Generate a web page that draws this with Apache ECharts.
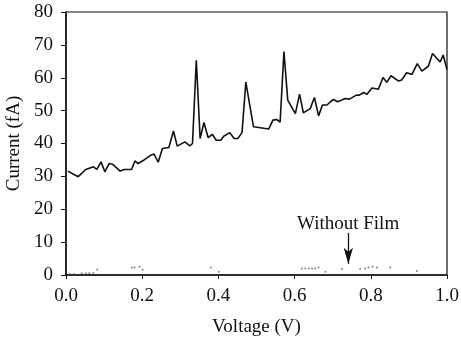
<!DOCTYPE html>
<html>
<head>
<meta charset="utf-8">
<style>
  html, body { margin: 0; padding: 0; background: #fff; }
  #chart { width: 461px; height: 344px; }
</style>
<script src="https://cdn.jsdelivr.net/npm/echarts@6/dist/echarts.min.js"></script>
</head>
<body>
<div id="chart"></div>
<script>
// 有膜曲线（电压 V / 电流 fA）
const filmVolts = [0.005, 0.032, 0.052, 0.072, 0.081, 0.092, 0.102, 0.113, 0.122, 0.142,
  0.153, 0.172, 0.181, 0.189, 0.205, 0.222, 0.231, 0.242, 0.253, 0.270,
  0.282, 0.292, 0.312, 0.325, 0.332, 0.342, 0.352, 0.362, 0.373, 0.384,
  0.394, 0.406, 0.414, 0.430, 0.441, 0.451, 0.462, 0.472, 0.492, 0.510,
  0.532, 0.543, 0.553, 0.562, 0.572, 0.582, 0.602, 0.613, 0.623, 0.641,
  0.652, 0.663, 0.673, 0.685, 0.694, 0.702, 0.713, 0.733, 0.744, 0.762,
  0.770, 0.781, 0.790, 0.803, 0.820, 0.832, 0.842, 0.853, 0.873, 0.881,
  0.894, 0.908, 0.922, 0.934, 0.951, 0.962, 0.982, 0.990, 1.000];
const filmCurrent = [31.6, 29.9, 32.1, 32.9, 32.1, 34.4, 31.4, 33.9, 33.7, 31.6,
  32.1, 32.1, 34.7, 33.9, 35.0, 36.4, 36.8, 34.3, 38.5, 38.8,
  43.8, 39.2, 40.5, 39.3, 40.0, 65.3, 41.5, 46.4, 41.8, 42.8,
  41.0, 41.0, 42.2, 43.3, 41.5, 41.5, 43.3, 58.7, 45.1, 44.8,
  44.4, 47.1, 47.3, 46.5, 68.0, 53.2, 49.1, 55.0, 49.3, 50.6,
  54.0, 48.4, 51.7, 51.7, 52.7, 53.4, 52.7, 53.7, 53.5, 54.7,
  54.7, 55.5, 55.0, 56.9, 56.5, 60.1, 58.6, 60.6, 59.0, 59.3,
  61.5, 61.0, 64.3, 62.0, 63.5, 67.4, 64.8, 66.9, 62.5];

// 无膜散点
const bareVolts = [0.011, 0.022, 0.041, 0.052, 0.061, 0.072, 0.082, 0.173, 0.180, 0.193,
  0.201, 0.380, 0.401, 0.619, 0.628, 0.637, 0.646, 0.654, 0.663, 0.681,
  0.724, 0.772, 0.785, 0.794, 0.805, 0.816, 0.851, 0.921];
const bareCurrent = [0.3, 0.3, 0.5, 0.5, 0.5, 0.7, 1.7, 2.3, 2.3, 2.5,
  1.6, 2.3, 1.0, 2.0, 2.0, 2.0, 2.0, 2.0, 2.3, 1.0,
  1.8, 1.8, 2.0, 2.3, 2.5, 2.3, 2.3, 1.2];

const xTicks = [0, 0.2, 0.4, 0.6, 0.8, 1.0];
const arrowAt = 0.741;
const arrowFrom = 12.8;
const arrowTo = 3.4;

const FONT = 'Liberation Serif';
const chart = echarts.init(document.getElementById('chart'), null, { renderer: 'canvas' });

chart.setOption({
  animation: false,
  backgroundColor: '#fff',
  grid: {
    left: 66, right: 14, top: 12, bottom: 69,
    outerBoundsMode: 'none',
    containLabel: false,
    show: true, borderColor: '#111', borderWidth: 1.2
  },
  xAxis: {
    type: 'value',
    min: xTicks[0], max: xTicks[xTicks.length - 1], interval: 0.2,
    name: 'Voltage (V)', nameLocation: 'middle', nameGap: 43,
    nameTextStyle: { fontFamily: FONT, fontSize: 19, color: '#111' },
    axisLine: { show: true, lineStyle: { color: '#111', width: 1.5 } },
    axisTick: { show: true, inside: false, length: 4, lineStyle: { color: '#111' } },
    axisLabel: {
      fontFamily: FONT, fontSize: 19, color: '#111', margin: 12,
      formatter: (v) => v.toFixed(1)
    },
    splitLine: { show: false }
  },
  yAxis: {
    type: 'value',
    min: 0, max: 80, interval: 10,
    name: 'Current (fA)', nameLocation: 'middle', nameGap: 42,
    nameTextStyle: { fontFamily: FONT, fontSize: 19, color: '#111' },
    axisLine: { show: true, lineStyle: { color: '#111', width: 1.5 } },
    axisTick: { show: true, inside: false, length: 5, lineStyle: { color: '#111' } },
    axisLabel: { fontFamily: FONT, fontSize: 19, color: '#111', margin: 13 },
    splitLine: { show: false }
  },
  series: [
    {
      name: 'With Film',
      type: 'line',
      data: filmVolts.map((v, i) => [v, filmCurrent[i]]),
      symbol: 'none',
      lineStyle: { color: '#111', width: 1.6 }
    },
    {
      name: 'Without Film',
      type: 'scatter',
      data: bareVolts.map((v, i) => [v, bareCurrent[i]]),
      symbolSize: 2,
      itemStyle: { color: '#666' },
      markLine: {
        silent: true,
        symbol: ['none', 'arrow'],
        symbolSize: [7, 16],
        label: { show: false },
        lineStyle: { color: '#111', width: 1.3, type: 'solid' },
        data: [[{ coord: [arrowAt, arrowFrom] }, { coord: [arrowAt, arrowTo] }]]
      }
    }
  ],
  graphic: [
    {
      type: 'text',
      left: 297, top: 215,
      style: { text: 'Without Film', font: '19px "Liberation Serif"', fill: '#111' }
    }
  ]
});
</script>
</body>
</html>
